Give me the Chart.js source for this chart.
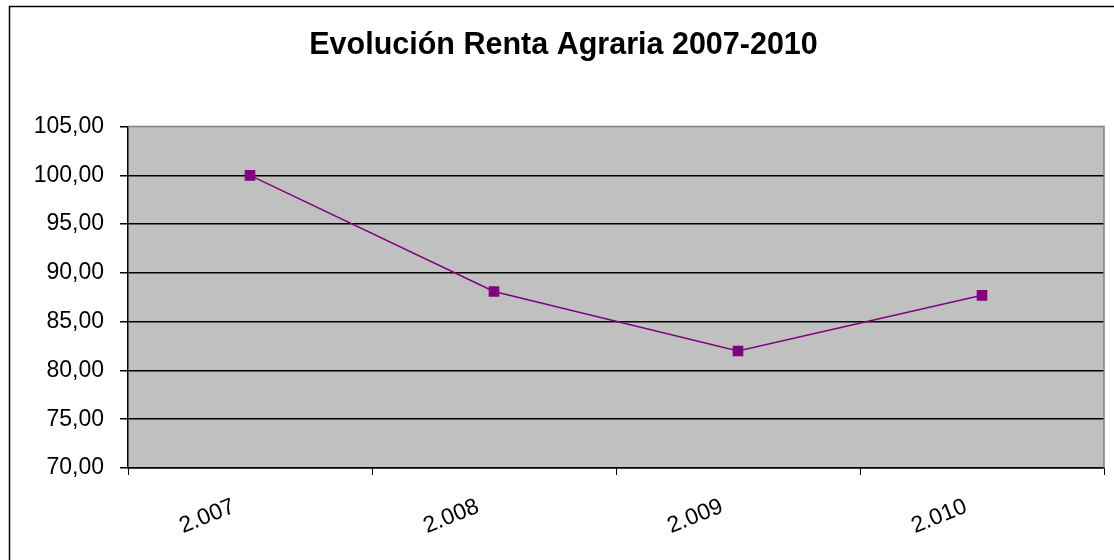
<!DOCTYPE html>
<html>
<head>
<meta charset="utf-8">
<script src="https://cdn.jsdelivr.net/npm/chart.js@4.4.1/dist/chart.umd.min.js"></script>
<style>
  body { margin: 0; background: #fff; }
  #wrap { width: 1114px; height: 560px; }
</style>
</head>
<body>
<div id="wrap"><canvas id="rentaChart"></canvas></div>
<script>
// --- data ---
const years = ['2.007', '2.008', '2.009', '2.010'];
const renta = [100.0, 88.1, 82.0, 87.7];
const yMin = 70;
const yMax = 105;
const yStep = 5;

const plotGray = '#C0C0C0';
const purple = '#800080';
const fontFamily = 'Liberation Sans, Arial, sans-serif';

// frame + gray plot area behind everything
const backdrop = {
    id: 'backdrop',
    beforeDraw(chart) {
        const { ctx, chartArea: a } = chart;
        ctx.save();
        ctx.fillStyle = '#fff';
        ctx.fillRect(0, 0, chart.width, chart.height);
        ctx.strokeStyle = '#000';
        ctx.lineWidth = 1.5;
        ctx.strokeRect(9.5, 6.5, 1300, 700);
        ctx.fillStyle = plotGray;
        ctx.fillRect(a.left, a.top, a.right - a.left, a.bottom - a.top);
        ctx.restore();
    },
    afterDatasetsDraw(chart) {
        const { ctx, chartArea: a } = chart;
        ctx.save();
        ctx.strokeStyle = '#808080';
        ctx.lineWidth = 1.5;
        ctx.beginPath();
        ctx.moveTo(a.left, a.top);
        ctx.lineTo(a.right, a.top);
        ctx.lineTo(a.right, a.bottom);
        ctx.stroke();
        ctx.restore();
    }
};

const ctx = document.getElementById('rentaChart').getContext('2d');
new Chart(ctx, {
    type: 'line',
    data: {
        labels: years,
        datasets: [{
            data: renta,
            borderColor: purple,
            borderWidth: 1.5,
            backgroundColor: purple,
            pointStyle: 'rect',
            pointRadius: 7.5,
            pointBackgroundColor: purple,
            pointBorderWidth: 0,
            tension: 0,
            fill: false
        }]
    },
    options: {
        responsive: true,
        maintainAspectRatio: false,
        animation: false,
        layout: { padding: { left: 23, right: 10, top: 0, bottom: 0 } },
        plugins: {
            legend: { display: false },
            tooltip: { enabled: false },
            title: {
                display: true,
                text: 'Evolución Renta Agraria 2007-2010',
                color: '#000',
                font: { family: fontFamily, size: 30.5, weight: 'bold', lineHeight: 1.2 },
                padding: { top: 27, bottom: 63 }
            }
        },
        scales: {
            x: {
                offset: true,
                grid: {
                    offset: true,
                    drawOnChartArea: false,
                    drawTicks: true,
                    tickLength: 7,
                    color: '#000'
                },
                border: { color: '#000', width: 1.5 },
                ticks: {
                    color: '#000',
                    autoSkip: false,
                    minRotation: 22,
                    maxRotation: 22,
                    labelOffset: -16,
                    padding: 18,
                    font: { family: fontFamily, size: 23 }
                },
                afterFit(scale) { scale.height = 92; }
            },
            y: {
                min: yMin,
                max: yMax,
                grid: {
                    color: (c) => (c.tick && c.tick.value === yMax ? 'rgba(0,0,0,0)' : '#000'),
                    tickColor: '#000',
                    tickLength: 8,
                    lineWidth: 1.5
                },
                border: { color: '#000', width: 1.5 },
                ticks: {
                    stepSize: yStep,
                    color: '#000',
                    padding: 16,
                    font: { family: fontFamily, size: 23 },
                    callback: (v) => v.toFixed(2).replace('.', ',')
                },
                afterFit(scale) { scale.width = 105; }
            }
        }
    },
    plugins: [backdrop]
});
</script>
</body>
</html>
